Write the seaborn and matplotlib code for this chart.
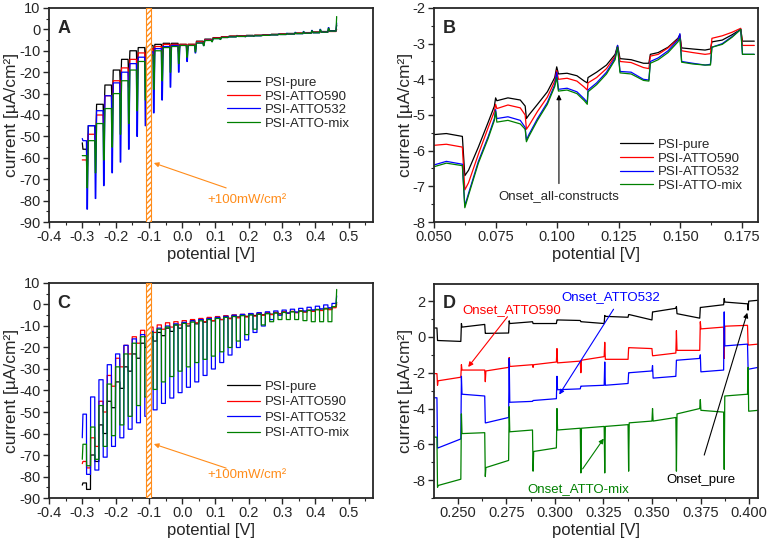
import numpy as np
import pandas as pd
import seaborn as sns
import matplotlib.pyplot as plt
from matplotlib.ticker import MultipleLocator, FormatStrFormatter

names = ["PSI-pure", "PSI-ATTO590", "PSI-ATTO532", "PSI-ATTO-mix"]
colors = ["black", "red", "blue", "green"]
orange = "#ff8c1a"

# light-on potentials (V) of the chopped sweeps in A and C (12.5 mV light / 12.5 mV dark)
chop_on = [-0.2875, -0.2625, -0.2375, -0.2125, -0.1875, -0.1625, -0.1375, -0.1125,
           -0.0875, -0.0625, -0.0375, -0.0125, 0.0125, 0.0375, 0.0625, 0.0875,
           0.1125, 0.1375, 0.1625, 0.1875, 0.2125, 0.2375, 0.2625, 0.2875,
           0.3125, 0.3375, 0.3625, 0.3875, 0.4125, 0.4375]

# --- panel A: dark level before each light pulse, trough at light-on (µA/cm²)
a_start = {"PSI-pure": -53, "PSI-ATTO590": -61, "PSI-ATTO532": -51, "PSI-ATTO-mix": -59}
a_end = {"PSI-pure": 2, "PSI-ATTO590": 0, "PSI-ATTO532": 3, "PSI-ATTO-mix": 6}
a_top = {
    "PSI-pure": [-56, -45, -35, -26, -19, -14, -10, -8.5, -7.5, -7, -6.5, -6.5, -7, -7, -5.5, -4.55,
                 -3.85, -3.42, -3.12, -2.93, -2.8, -2.7, -2.5, -2.3, -2.1, -1.9, -1.7, -1.5, -1.2, -1.0, -0.6],
    "PSI-ATTO590": [-61, -49, -40, -31, -24, -18, -14, -11, -9, -8, -7, -7, -7, -7, -5.85, -4.8,
                    -4.0, -3.5, -3.2, -3.05, -2.9, -2.8, -2.6, -2.4, -2.2, -2.0, -1.8, -1.6, -1.4, -1.2, -1.0],
    "PSI-ATTO532": [-52, -45, -38, -31, -25, -20, -16, -13, -10.5, -9, -8, -7.5, -7.5, -7.5, -6.35, -5.1,
                    -4.28, -3.78, -3.5, -3.3, -3.1, -3.0, -2.8, -2.6, -2.4, -2.2, -2.0, -1.8, -1.6, -1.3, -0.8],
    "PSI-ATTO-mix": [-59, -52, -44, -37, -30, -24, -19, -15, -12, -10, -8.5, -8, -7.5, -7.5, -6.4, -5.2,
                     -4.33, -3.82, -3.52, -3.3, -3.1, -3.0, -2.8, -2.6, -2.4, -2.2, -2.0, -1.8, -1.6, -1.3, -0.8],
}
a_dip = {
    "PSI-pure": [-60, -51, -42, -34, -27, -22, -18, -15, -13, -12, -11, -10.5, -10, -9, -6.7,
                 -5.1, -4.2, -3.3, -2.95, -3.0, -2.9, -2.7, -2.5, -2.3, -2.1, -1.9, -1.6, -1.3, -0.8, -0.3],
    "PSI-ATTO590": [-64, -56, -48, -40, -33, -27, -23, -19, -16, -14, -12.5, -11.5, -10.5, -9.5, -7.1,
                    -5.4, -4.3, -3.35, -2.85, -3.1, -3.0, -2.8, -2.6, -2.4, -2.2, -2.0, -1.7, -1.5, -1.2, -0.9],
    "PSI-ATTO532": [-84, -79, -73, -67, -62, -56, -50, -45, -39, -33, -27, -20, -15, -11, -7.55,
                    -5.7, -4.65, -3.5, -3.1, -3.4, -3.2, -2.8, -2.5, -2.2, -1.8, -1.4, -1.0, -0.5, 0.0, 0.8],
    "PSI-ATTO-mix": [-74, -67, -61, -55, -49, -44, -38, -33, -28, -24, -20, -16, -13, -10.5, -7.6,
                     -5.75, -4.7, -3.55, -3.1, -3.4, -3.2, -2.9, -2.6, -2.3, -2.0, -1.6, -1.2, -0.7, -0.2, 0.5],
}

# --- panel B: zoom of A, vertices shared in potential
b_x = [0.050, 0.055, 0.0615, 0.0625, 0.064, 0.068, 0.072, 0.0745, 0.075, 0.0755,
       0.080, 0.085, 0.087, 0.0875, 0.0885, 0.092, 0.096, 0.099, 0.0998, 0.1005,
       0.104, 0.108, 0.111, 0.1122, 0.1125, 0.116, 0.120, 0.1235, 0.1245, 0.1255,
       0.130, 0.135, 0.1372, 0.1378, 0.141, 0.145, 0.149, 0.1498, 0.1505, 0.155,
       0.160, 0.1622, 0.1628, 0.167, 0.171, 0.1745, 0.1752, 0.180]
b_y = {
    "PSI-pure": [-5.55, -5.52, -5.6, -6.7, -6.55, -5.9, -5.2, -4.75, -4.52, -4.6,
                 -4.52, -4.58, -4.75, -5.1, -5.0, -4.7, -4.35, -3.95, -3.65, -3.85,
                 -3.83, -3.9, -4.05, -4.1, -3.95, -3.8, -3.6, -3.3, -3.05, -3.42,
                 -3.45, -3.55, -3.55, -3.3, -3.25, -3.1, -2.85, -2.75, -3.12, -3.15,
                 -3.18, -3.15, -2.95, -2.9, -2.75, -2.6, -2.93, -2.93],
    "PSI-ATTO590": [-5.85, -5.82, -5.9, -7.1, -6.9, -6.1, -5.35, -4.9, -4.7, -4.82,
                    -4.72, -4.8, -5.0, -5.4, -5.3, -4.9, -4.5, -4.05, -3.75, -4.0,
                    -3.97, -4.05, -4.22, -4.3, -4.1, -3.95, -3.7, -3.35, -3.1, -3.5,
                    -3.53, -3.67, -3.7, -3.35, -3.3, -3.12, -2.88, -2.78, -3.2, -3.25,
                    -3.3, -3.28, -2.85, -2.78, -2.68, -2.57, -3.05, -3.05],
    "PSI-ATTO532": [-6.4, -6.3, -6.38, -7.55, -7.2, -6.3, -5.6, -5.1, -4.85, -5.1,
                    -5.05, -5.15, -5.35, -5.7, -5.55, -5.1, -4.65, -4.15, -3.8, -4.28,
                    -4.25, -4.35, -4.55, -4.65, -4.3, -4.1, -3.8, -3.4, -3.05, -3.78,
                    -3.8, -4.0, -4.02, -3.5, -3.4, -3.2, -2.9, -2.72, -3.5, -3.55,
                    -3.6, -3.58, -3.1, -3.0, -2.8, -2.6, -3.3, -3.3],
    "PSI-ATTO-mix": [-6.45, -6.35, -6.42, -7.6, -7.25, -6.35, -5.65, -5.15, -4.9, -5.2,
                     -5.15, -5.25, -5.4, -5.75, -5.6, -5.15, -4.7, -4.2, -3.95, -4.33,
                     -4.3, -4.4, -4.6, -4.7, -4.35, -4.15, -3.85, -3.45, -3.1, -3.82,
                     -3.85, -4.03, -4.05, -3.55, -3.45, -3.25, -2.95, -2.85, -3.52, -3.57,
                     -3.6, -3.6, -3.1, -3.02, -2.82, -2.6, -3.3, -3.3],
}

# --- panel C: dark level and light level per pulse (µA/cm²)
c_start = {"PSI-pure": -84, "PSI-ATTO590": -74, "PSI-ATTO532": -62, "PSI-ATTO-mix": -72}
c_end = {"PSI-pure": 1, "PSI-ATTO590": 0, "PSI-ATTO532": 4, "PSI-ATTO-mix": 7}
c_dark = {
    "PSI-pure": [-83, -70, -56, -45, -36, -29, -23, -18, -15, -13, -11, -9.5, -8.5, -7.5, -7, -6.5,
                 -6, -5.5, -5, -4.8, -4.5, -4.2, -4, -3.8, -3.5, -3.3, -3, -2.7, -2.3, -1.8, -1],
    "PSI-ATTO590": [-73, -62, -45, -33, -25, -19, -15, -12, -10.5, -9.5, -8.5, -8, -7.5, -7, -6.5, -6,
                    -5.6, -5.2, -4.9, -4.6, -4.3, -4, -3.8, -3.6, -3.4, -3.2, -3, -2.7, -2.4, -2, -1.5],
    "PSI-ATTO532": [-51, -43, -35, -28, -23, -19, -16, -14, -12.5, -11, -10, -9, -8.3, -7.6, -7, -6.5,
                    -6, -5.5, -5, -4.6, -4.2, -3.8, -3.4, -3, -2.6, -2.2, -1.8, -1.3, -0.8, -0.2, 0.5],
    "PSI-ATTO-mix": [-65, -57, -47, -37, -29, -23, -18, -15, -13, -11.5, -10.5, -9.5, -8.8, -8.2, -7.6, -7,
                     -6.5, -6, -5.6, -5.2, -4.9, -4.6, -4.3, -4, -3.7, -3.4, -3.1, -2.8, -2.4, -2, -1],
}
c_light = {
    "PSI-pure": [-86, -73, -60, -48, -39, -31, -25, -20, -17, -14.5, -12.5, -11, -10, -9, -8.2,
                 -7.6, -7, -6.4, -5.8, -5.5, -5.1, -4.8, -4.5, -4.3, -4, -3.7, -3.4, -3.0, -2.6, -2.1],
    "PSI-ATTO590": [-76, -66, -50, -38, -29, -23, -18, -15, -13, -11.5, -10.5, -9.5, -9, -8.5, -8,
                    -7.5, -7, -6.6, -6.2, -5.8, -5.4, -5, -4.7, -4.4, -4.1, -3.8, -3.5, -3.2, -2.8, -2.4],
    "PSI-ATTO532": [-79, -77, -71, -66, -62, -58, -55, -52, -49, -46, -43.5, -41, -38.5, -36, -33,
                    -30, -27, -23.5, -20, -16.5, -13, -10, -7, -5, -4, -3.5, -3, -2.5, -2, -1.5],
    "PSI-ATTO-mix": [-75, -72, -66, -61, -56, -52, -47, -43, -39.5, -36, -33.5, -31, -29, -27, -25.5,
                     -24, -22, -20, -17, -14, -11.5, -9.5, -8, -7, -7, -7, -7.5, -8, -8, -8],
}

# --- panel D: zoom of C, level switching potentials and per-segment values
d_edges = [0.2396, 0.2519, 0.2642, 0.2765, 0.2888, 0.3011, 0.3134, 0.3257,
           0.3380, 0.3503, 0.3626, 0.3749, 0.3872, 0.3995]
d_first = {
    "PSI-pure": [0.5, -0.2, 0.55, 0.2, 0.75, 0.75, 0.95, 0.85, 1.15, 1.25, 1.4, 1.3, 1.65, 1.95, 2.0],
    "PSI-ATTO590": [-2.05, -2.45, -1.85, -1.9, -1.65, -1.55, -1.45, -1.3, -1.25, -0.6, -1.05, -0.75, 0.45, 0.6, -0.45],
    "PSI-ATTO532": [-3.4, -6.2, -3.2, -4.8, -3.65, -3.55, -2.95, -2.75, -2.7, -2.0, -2.3, -1.3, -1.95, -0.5, -1.8],
    "PSI-ATTO-mix": [-5.6, -8.3, -5.4, -7.3, -5.3, -6.4, -5.2, -5.1, -5.0, -4.8, -4.7, -4.3, -4.1, -3.3, -4.15],
}
d_last = {
    "PSI-pure": [0.5, -0.25, 0.7, 0.22, 0.85, 0.75, 0.92, 0.75, 1.1, 0.95, 1.6, 1.05, 1.8, 1.85, 2.05],
    "PSI-ATTO590": [-2.05, -2.25, -1.85, -1.7, -1.55, -1.4, -1.35, -1.1, -1.25, -0.65, -0.9, -0.75, 0.55, 0.65, -0.4],
    "PSI-ATTO532": [-3.4, -5.7, -3.3, -4.5, -3.6, -3.45, -2.9, -2.7, -2.6, -1.9, -2.2, -1.2, -1.85, -0.4, -1.7],
    "PSI-ATTO-mix": [-5.6, -7.95, -5.35, -6.9, -5.2, -6.2, -5.1, -5.0, -4.9, -4.7, -4.5, -4.0, -4.2, -3.2, -4.1],
}
d_spike = {
    "PSI-pure": [0.5, -0.2, 0.75, 0.2, 0.9, 0.75, 0.95, 0.85, 1.2, 1.25, 1.4, 1.7, 1.65, 2.15, 1.5],
    "PSI-ATTO590": [-2.05, -2.7, -1.55, -2.5, -1.15, -1.7, -0.65, -2.0, -0.3, -0.6, -1.05, 0.35, 0.85, -1.2, -0.45],
    "PSI-ATTO532": [-3.4, -6.2, -2.2, -4.8, -1.2, -3.55, -2.2, -2.75, -1.4, -2.0, -1.6, -1.3, -1.0, 1.4, -1.8],
    "PSI-ATTO-mix": [-5.6, -8.4, -4.3, -7.8, -3.9, -7.5, -4.0, -7.6, -7.6, -7.5, -4.0, -7.5, -3.5, -7.4, -1.7],
}


def ramp_trace(start, tops, dips, end, x0=-0.3, half=0.0125, x_end=0.462):
    # dark plateau, sharp cathodic transient at light-on, fast recovery during light
    xs, ys = [x0, x0 + 0.002], [start, tops[0]]
    for k, on in enumerate(chop_on):
        xs += [on, on + 0.0015, on + 0.003, on + 0.0055, on + half]
        ys += [tops[k], dips[k], dips[k], tops[k + 1], tops[k + 1]]
    xs += [x_end, x_end + 0.002]
    ys += [tops[-1], end]
    return xs, ys


def square_trace(start, darks, lights, end, x0=-0.3, half=0.0125, x_end=0.462):
    xs, ys = [x0, x0 + 0.002], [start, darks[0]]
    for k, on in enumerate(chop_on):
        xs += [on, on + 0.0004, on + half - 0.0004, on + half]
        ys += [darks[k], lights[k], lights[k], darks[k + 1]]
    xs += [x_end, x_end + 0.002]
    ys += [darks[-1], end]
    return xs, ys


def step_trace(firsts, lasts, spikes, x0=0.2375, x1=0.405):
    bounds = [x0] + d_edges + [x1]
    xs, ys = [], []
    for i in range(len(bounds) - 1):
        a, b = bounds[i], bounds[i + 1]
        xs += [a, a + 0.0003, b - 0.0003]
        ys += [spikes[i], firsts[i], lasts[i]]
    return xs, ys


def to_frame(traces):
    frames = []
    for name, (xs, ys) in traces.items():
        frames.append(pd.DataFrame({"potential": xs, "current": ys, "construct": name}))
    return pd.concat(frames, ignore_index=True)


df_a = to_frame({n: ramp_trace(a_start[n], a_top[n], a_dip[n], a_end[n]) for n in names})
df_b = to_frame({n: (b_x, b_y[n]) for n in names})
df_c = to_frame({n: square_trace(c_start[n], c_dark[n], c_light[n], c_end[n]) for n in names})
df_d = to_frame({n: step_trace(d_first[n], d_last[n], d_spike[n]) for n in names})

sns.set_theme(style="ticks")
plt.rcParams["font.family"] = ["Liberation Sans", "DejaVu Sans"]
plt.rcParams["axes.unicode_minus"] = False
plt.rcParams["xtick.direction"] = "out"
plt.rcParams["ytick.direction"] = "out"

fig = plt.figure(figsize=(7.69, 5.46), dpi=100)
ax_a = fig.add_axes([0.0637, 0.5934, 0.4213, 0.392])
ax_b = fig.add_axes([0.5644, 0.5934, 0.4213, 0.392])
ax_c = fig.add_axes([0.0637, 0.0879, 0.4213, 0.3938])
ax_d = fig.add_axes([0.5644, 0.0879, 0.4213, 0.392])

for ax, df in [(ax_a, df_a), (ax_b, df_b), (ax_c, df_c), (ax_d, df_d)]:
    sns.lineplot(data=df, x="potential", y="current", hue="construct", hue_order=names,
                 palette=colors, sort=False, estimator=None, legend=False, lw=0.9, ax=ax)
    ax.set_xlabel("potential [V]", fontsize=12, labelpad=2)
    ax.set_ylabel("current [µA/cm²]", fontsize=12.5, labelpad=0)
    for s in ax.spines.values():
        s.set_visible(True)
        s.set_color("#262626")
        s.set_linewidth(1.3)
    ax.tick_params(which="major", length=4, width=1, labelsize=10.5, pad=2, color="#262626")
    ax.tick_params(which="minor", length=2, width=0.8, color="#262626")
    ax.tick_params(top=False, right=False, which="both")

# A and C: full sweeps
for ax, letter in [(ax_a, "A"), (ax_c, "C")]:
    ax.set_xlim(-0.4, 0.573)
    ax.set_ylim(-90, 10)
    ax.set_xticks([-0.4, -0.3, -0.2, -0.1, 0.0, 0.1, 0.2, 0.3, 0.4, 0.5])
    ax.xaxis.set_major_formatter(FormatStrFormatter("%.1f"))
    ax.xaxis.set_minor_locator(MultipleLocator(0.05))
    ax.set_yticks([-90, -80, -70, -60, -50, -40, -30, -20, -10, 0, 10])
    ax.yaxis.set_minor_locator(MultipleLocator(5))
    ax.axvspan(-0.108, -0.095, facecolor="white", edgecolor=orange, hatch="//////",
               lw=0.8, zorder=4)
    ax.text(0.025, 0.945, letter, transform=ax.transAxes, ha="left", va="top",
            fontsize=13, fontweight="bold")

ax_a.annotate("", xy=(-0.093, -62), xytext=(0.14, -74.5),
              arrowprops=dict(arrowstyle="-|>", color=orange, lw=0.8, mutation_scale=7))
ax_a.text(0.196, -79.8, "+100mW/cm²", color=orange, fontsize=9.5, ha="center", va="center")
ax_c.annotate("", xy=(-0.093, -64.5), xytext=(0.14, -76.5),
              arrowprops=dict(arrowstyle="-|>", color=orange, lw=0.8, mutation_scale=7))
ax_c.text(0.196, -79.3, "+100mW/cm²", color=orange, fontsize=9.5, ha="center", va="center")

# B
ax_b.set_xlim(0.05, 0.1815)
ax_b.set_ylim(-8, -2)
ax_b.set_xticks([0.050, 0.075, 0.100, 0.125, 0.150, 0.175])
ax_b.xaxis.set_major_formatter(FormatStrFormatter("%.3f"))
ax_b.xaxis.set_minor_locator(MultipleLocator(0.0125))
ax_b.set_yticks([-8, -7, -6, -5, -4, -3, -2])
ax_b.yaxis.set_minor_locator(MultipleLocator(0.5))
ax_b.text(0.028, 0.945, "B", transform=ax_b.transAxes, ha="left", va="top",
          fontsize=13, fontweight="bold")
ax_b.annotate("", xy=(0.1007, -4.35), xytext=(0.1007, -7.0),
              arrowprops=dict(arrowstyle="-|>", color="black", lw=0.8, mutation_scale=7))
ax_b.text(0.1007, -7.27, "Onset_all-constructs", fontsize=9.5, ha="center", va="center")

# D
ax_d.set_xlim(0.2378, 0.4046)
ax_d.set_ylim(-9, 2.96)
ax_d.set_xticks([0.250, 0.275, 0.300, 0.325, 0.350, 0.375, 0.400])
ax_d.xaxis.set_major_formatter(FormatStrFormatter("%.3f"))
ax_d.xaxis.set_minor_locator(MultipleLocator(0.0125))
ax_d.set_yticks([-8, -6, -4, -2, 0, 2])
ax_d.yaxis.set_minor_locator(MultipleLocator(1))
ax_d.text(0.028, 0.95, "D", transform=ax_d.transAxes, ha="left", va="top",
          fontsize=13, fontweight="bold")

onsets = [("Onset_ATTO590", "red", (0.2778, 1.5), (0.2765, 1.25), (0.2545, -1.8)),
          ("Onset_ATTO532", "blue", (0.329, 2.22), (0.331, 1.68), (0.3015, -3.35)),
          ("Onset_ATTO-mix", "green", (0.312, -8.5), (0.3135, -7.5), (0.326, -5.55)),
          ("Onset_pure", "black", (0.375, -8.0), (0.3765, -6.75), (0.3995, 1.5))]
for label, col, txy, start, tip in onsets:
    ax_d.annotate("", xy=tip, xytext=start,
                  arrowprops=dict(arrowstyle="-|>", color=col, lw=0.8, mutation_scale=7))
    ax_d.text(txy[0], txy[1], label, color=col, fontsize=9.5, ha="center", va="center")

# legends
for ax, anchor, spacing in [(ax_a, (0.52, 0.555), 0.1), (ax_b, (0.545, 0.265), 0.1),
                            (ax_c, (0.52, 0.41), 0.25)]:
    ax.legend(handles=ax.lines[:4], labels=names, loc="center left", bbox_to_anchor=anchor,
              frameon=False, fontsize=9.5, handlelength=2.5, handletextpad=0.4,
              labelspacing=spacing, borderpad=0.2)

fig.savefig("out.png", dpi=100)
